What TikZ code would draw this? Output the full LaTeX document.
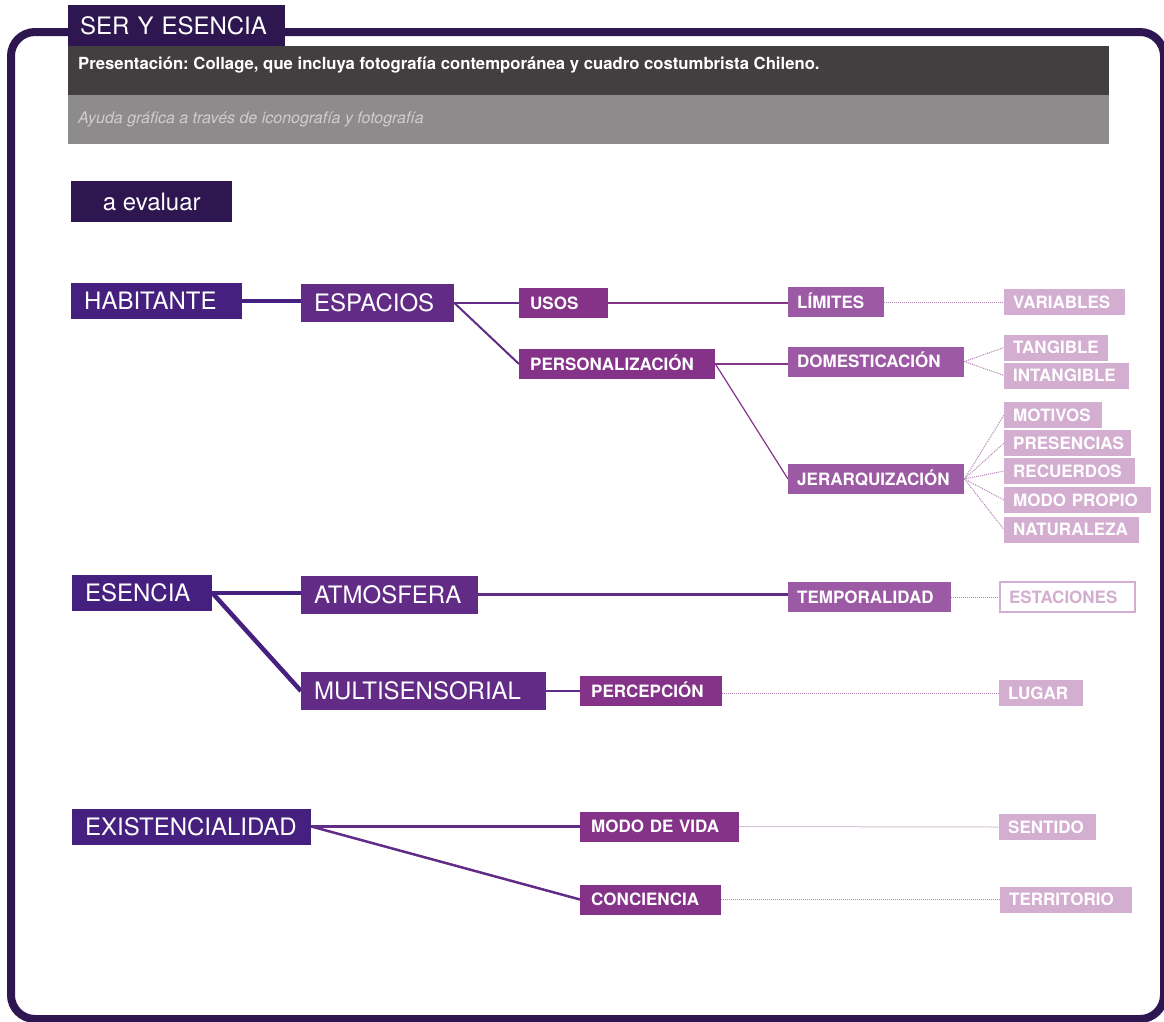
\documentclass[tikz,border=0pt]{standalone}
\usepackage{fontspec}
\setmainfont{TeX Gyre Heros}
\usepackage{xcolor}
\definecolor{frameC}{HTML}{2E1650}
\definecolor{barDark}{HTML}{433F40}
\definecolor{barLight}{HTML}{8D8B8C}
\definecolor{noteGrey}{HTML}{CFCDCE}
\definecolor{lvlA}{HTML}{46207E}
\definecolor{lvlB}{HTML}{612B86}
\definecolor{lvlC}{HTML}{843389}
\definecolor{lvlD}{HTML}{9D5AA4}
\definecolor{lvlE}{HTML}{D4AED1}
\definecolor{dotC}{HTML}{B583B7}
\usetikzlibrary{backgrounds}
\frenchspacing

\begin{document}
\begin{tikzpicture}[x=1pt, y=-1pt,
  tab/.style={fill=frameC, text=white, font=\fontsize{24}{28}\selectfont,
    inner sep=0pt, anchor=north west, minimum height=41pt},
  lvla/.style={fill=lvlA, text=white, font=\fontsize{24}{28}\selectfont,
    anchor=west, inner xsep=13pt, inner ysep=0pt, minimum height=36pt,
    text height=17.2pt, text depth=0pt, text width=#1, align=left},
  lvlb/.style={lvla=#1, fill=lvlB, minimum height=38pt},
  lvlc/.style={fill=lvlC, text=white, font=\bfseries\fontsize{17}{20}\selectfont,
    anchor=west, inner xsep=11pt, inner ysep=0pt, minimum height=30pt,
    text height=12.2pt, text depth=0pt, text width=#1, align=left},
  lvld/.style={lvlc=#1, fill=lvlD, inner xsep=9pt},
  lvle/.style={lvlc=#1, fill=lvlE, inner xsep=9pt, minimum height=26pt},
  dots/.style={draw=dotC, line width=1pt, dash pattern=on 1pt off 1pt}
]
  \useasboundingbox (0,0) rectangle (1164,1021);

  % Frame and header
  \draw[frameC, line width=8pt, rounded corners=24pt] (11,32) rectangle (1164,1019);
  \node[tab, minimum width=217pt, inner xsep=12pt, text width=193pt, align=left,
    text height=17.2pt, text depth=0pt] (title) at (68,5) {SER Y ESENCIA};
  \fill[barDark] (68,46) rectangle (1109,95);
  \fill[barLight] (68,95) rectangle (1109,144);
  \node[anchor=base west, inner sep=0pt, text=white,
    font=\bfseries\fontsize{16.7}{20}\selectfont] (brief) at (78,69)
    {Presentación: Collage, que incluya fotografía contemporánea y cuadro costumbrista Chileno.};
  \node[anchor=base west, inner sep=0pt, text=noteGrey,
    font=\itshape\fontsize{16}{20}\selectfont] (aid) at (78,123)
    {Ayuda gráfica a través de iconografía y fotografía};
  \node[tab, minimum width=161pt] (evaluar) at (71,181) {a evaluar};

  % HABITANTE branch
  \node[lvla=145pt] (habitante) at (71,301) {HABITANTE};
  \node[lvlb=127pt] (espacios) at (301,303) {ESPACIOS};
  \node[lvlc=67pt] (usos) at (519,303) {USOS};
  \node[lvlc=174pt] (personal) at (519,364) {PERSONALIZACIÓN};
  \node[lvld=78pt] (limites) at (788,302) {LÍMITES};
  \node[lvld=158pt] (domest) at (788,361.5) {DOMESTICACIÓN};
  \node[lvld=158pt] (jerarq) at (788,479) {JERARQUIZACIÓN};
  \node[lvle=103pt] (variables) at (1004,302) {VARIABLES};
  \node[lvle=86pt] (tangible) at (1004,347.5) {TANGIBLE};
  \node[lvle=107pt] (intangible) at (1004,375.5) {INTANGIBLE};
  \foreach \nm/\yy/\ww/\txt in {motivos/415/80pt/MOTIVOS, presencias/443/109pt/PRESENCIAS,
      recuerdos/471/113pt/RECUERDOS, modopropio/500/129pt/MODO~PROPIO,
      naturaleza/529.5/117pt/NATURALEZA}
    \node[lvle=\ww] (\nm) at (1004,\yy) {\txt};

  % ESENCIA branch
  \node[lvla=114pt] (esencia) at (72,593) {ESENCIA};
  \node[lvlb=151pt] (atmosfera) at (301,594.5) {ATMOSFERA};
  \node[lvlb=219pt] (multisens) at (301,691) {MULTISENSORIAL};
  \node[lvld=145pt] (temporal) at (788,597) {TEMPORALIDAD};
  \node[lvle=117pt, fill=white, draw=lvlE, line width=2pt, text=lvlE,
    minimum height=30pt] (estaciones) at (999,597) {ESTACIONES};
  \node[lvlc=120pt] (percepcion) at (580,691) {PERCEPCIÓN};
  \node[lvle=66pt] (lugar) at (999,693) {LUGAR};

  % EXISTENCIALIDAD branch
  \node[lvla=213pt] (existencia) at (72,826.5) {EXISTENCIALIDAD};
  \node[lvlc=137pt] (modovida) at (580,826.5) {MODO~DE~VIDA};
  \node[lvlc=119pt] (conciencia) at (580,899.5) {CONCIENCIA};
  \node[lvle=79pt] (sentido) at (999,827) {SENTIDO};
  \node[lvle=114pt] (territorio) at (1000,899.5) {TERRITORIO};

  % Connectors
  \begin{scope}[on background layer]
    \draw[lvlA, line width=3.5pt] (habitante.east) -- (habitante.east -| espacios.west);
    \draw[lvlB, line width=2pt] (espacios.east) -- (usos.west);
    \draw[lvlB, line width=2pt] (espacios.east) -- (personal.west);
    \draw[lvlC, line width=1.5pt] (usos.east) -- (usos.east -| limites.west);
    \draw[lvlC, line width=1.2pt] (personal.east) -- (personal.east -| domest.west);
    \draw[lvlC, line width=1.2pt] (personal.east) -- (jerarq.west);
    \draw[dots] (limites.east) -- (variables.west);
    \draw[dots] (domest.east) -- (tangible.west);
    \draw[dots] (domest.east) -- (intangible.west);
    \foreach \nm in {motivos, presencias, recuerdos, modopropio, naturaleza}
      \draw[dots] (jerarq.east) -- (\nm.west);

    \draw[lvlA, line width=4pt] (esencia.east) -- (esencia.east -| atmosfera.west);
    \draw[lvlA, line width=4.5pt] (esencia.east) -- (multisens.west);
    \draw[lvlB, line width=2.5pt] (atmosfera.east) -- (atmosfera.east -| temporal.west);
    \draw[dots] (temporal.east) -- (estaciones.west);
    \draw[lvlB, line width=1.5pt] (multisens.east) -- (percepcion.west);
    \draw[dots] (percepcion.east |- lugar.west) -- (lugar.west);

    \draw[lvlB, line width=2.5pt] (existencia.east) -- (modovida.west);
    \draw[lvlB, line width=2.5pt] (existencia.east) -- (conciencia.west);
    \draw[dots] (modovida.east) -- (sentido.west);
    \draw[dots] (conciencia.east) -- (territorio.west);
  \end{scope}
\end{tikzpicture}
\end{document}
